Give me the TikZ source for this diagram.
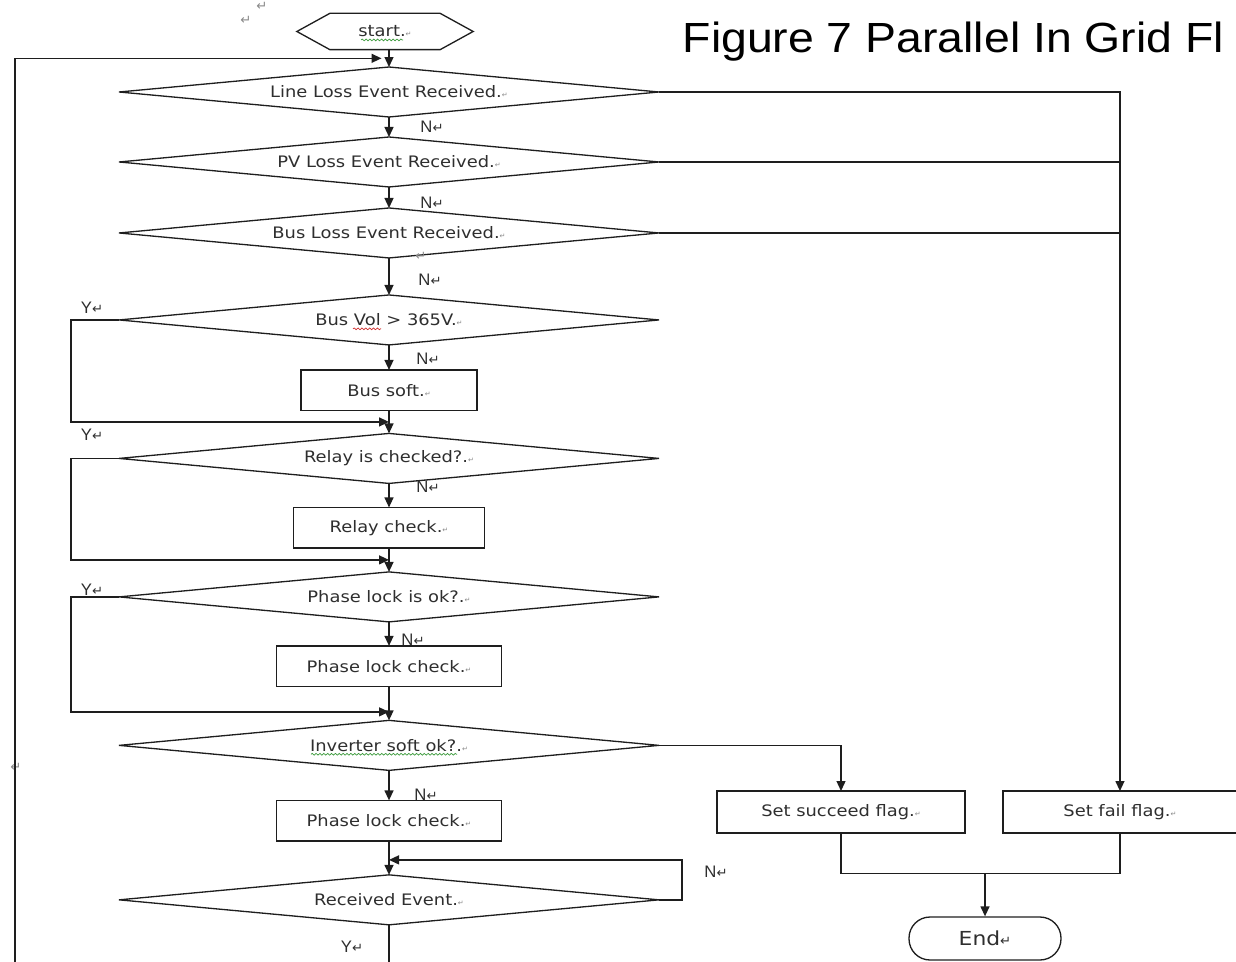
\documentclass[tikz,border=0pt]{standalone}
\usepackage{fontspec}
\usepackage{xcolor}
\usetikzlibrary{positioning, arrows.meta, calc, shapes.geometric, decorations.pathmorphing}
\setmainfont{DejaVu Sans}
\newfontfamily\boxfont[FakeStretch=1.13]{DejaVu Sans}
\newfontfamily\labelfont{Liberation Sans}
\newfontfamily\titlefont[FakeStretch=1.1]{Liberation Sans}
\newfontfamily\markfont{DejaVu Sans}
\definecolor{inkgrey}{HTML}{2E2E2E}
\definecolor{lineblack}{HTML}{1E1E1E}
\definecolor{spellgreen}{HTML}{3C9A3C}
\definecolor{spellred}{HTML}{D03030}
\definecolor{markgrey}{HTML}{8A8A8A}
\newcommand\retmark{{\markfont\fontsize{7.5}{7.5}\selectfont ↵}}
\newcommand\cellmark{{\color{markgrey}\markfont\fontsize{4}{4}\selectfont ↵}}

\begin{document}
\begin{tikzpicture}[x=0.02cm, y=-0.02cm, font=\boxfont\fontsize{9}{11}\selectfont, text=inkgrey,
  line width=0.75pt, node distance=0.45cm,
  decision/.style={diamond, draw=lineblack, shape aspect=10.8, minimum width=10.8cm,
    minimum height=1cm, inner sep=0pt, outer sep=0pt},
  process/.style={rectangle, draw=lineblack, minimum height=0.81cm, inner sep=0pt, outer sep=0pt},
  yn/.style={font=\labelfont\fontsize{9.5}{10}\selectfont, inner sep=0pt},
  arr/.style={draw=lineblack, -{Triangle[length=2mm, width=1.8mm]}},
  link/.style={draw=lineblack},
  spellmark/.style={line width=0.4pt, decorate,
    decoration={snake, amplitude=0.5pt, segment length=2.2pt}}]
  \useasboundingbox (0,0) rectangle (1236,962);
  \clip (0,0) rectangle (1236,962);

  % main column
  \node[minimum width=3.5cm, minimum height=0.7cm, inner sep=0pt] (start) at (385,31.5)
    {start.\cellmark};
  \draw[link] (start.west) -- ($(start.north west)+(33,0)$) -- ($(start.north east)+(-33,0)$)
    -- (start.east) -- ($(start.south east)+(-33,0)$) -- ($(start.south west)+(33,0)$) -- cycle;
  \node[decision] (ll) at (389,92) {Line Loss Event Received.\cellmark};
  \node[decision, below=0.4cm of ll] (pv) {PV Loss Event Received.\cellmark};
  \node[decision, below=0.42cm of pv] (bl) {Bus Loss Event Received.\cellmark};
  \node[decision, below=0.74cm of bl] (bv) {Bus Vol > 365V.\cellmark};
  \node[process, minimum width=3.52cm, below=0.5cm of bv] (bs) {Bus soft.\cellmark};
  \node[decision, below=0.46cm of bs] (rl) {Relay is checked?.\cellmark};
  \node[process, minimum width=3.82cm, below=0.48cm of rl] (rc) {Relay check.\cellmark};
  \node[decision, below=0.48cm of rc] (ph) {Phase lock is ok?.\cellmark};
  \node[process, minimum width=4.5cm, below=0.48cm of ph] (pc) {Phase lock check.\cellmark};
  \node[decision, below=0.68cm of pc] (inv) {Inverter soft ok?.\cellmark};
  \node[process, minimum width=4.5cm, below=0.6cm of inv] (pc2) {Phase lock check.\cellmark};
  \node[decision, below=0.68cm of pc2] (rv) {Received Event.\cellmark};

  % spell-check squiggles
  \draw[spellmark, spellgreen] ($(start.base)+(-24,3)$) -- ++(42,0);
  \draw[spellmark, spellred] ($(bv.base)+(-36,3)$) -- ++(28,0);
  \draw[spellmark, spellgreen] ($(inv.base)+(-78,3)$) -- ++(146,0);

  % right column
  \node[process, minimum width=4.96cm, minimum height=0.84cm] (succ) at (841,812)
    {Set succeed flag.\cellmark};
  \node[process, minimum width=4.68cm, minimum height=0.84cm, right=0.76cm of succ] (fail)
    {Set fail flag.\cellmark};
  \node[draw=lineblack, rounded corners=0.42cm, minimum width=3.04cm, minimum height=0.86cm,
    font=\boxfont\fontsize{11}{13}\selectfont] (end) at (985,938.5) {End\retmark};

  % title
  \node[anchor=base west, inner sep=0pt, text=black,
    font=\titlefont\fontsize{24}{28}\selectfont] (title) at (682,53) {Figure 7 Parallel In Grid Fl};

  % Y / N labels
  \node[yn] (nLL) at (432,127) {N\retmark};
  \node[yn] (nPV) at (432,203) {N\retmark};
  \node[yn] (nBL) at (430,280) {N\retmark};
  \node[yn] (yBV) at (92,308) {Y\retmark};
  \node[yn] (nBV) at (428,359) {N\retmark};
  \node[yn] (yRL) at (92,435) {Y\retmark};
  \node[yn] (nRL) at (428,487) {N\retmark};
  \node[yn] (yPH) at (92,590) {Y\retmark};
  \node[yn] (nPH) at (413,640) {N\retmark};
  \node[yn] (nINV) at (426,795) {N\retmark};
  \node[yn] (nRV) at (716,872) {N\retmark};
  \node[yn] (yRV) at (352,947) {Y\retmark};

  % stray marks
  \node[text=markgrey, inner sep=0pt] (m1) at (246,20) {\retmark};
  \node[text=markgrey, inner sep=0pt] (m2) at (262,6) {\retmark};
  \node[text=markgrey, inner sep=0pt] (m3) at (16,767) {\retmark};
  \node[text=markgrey, inner sep=0pt] (m4) at (421,256) {\retmark};

  % connectors
  \coordinate (leftrail) at (71,0);
  \coordinate (outerrail) at (15,0);
  \coordinate (topjoin) at ($(ll.north |- start.south)!0.5!(ll.north)$);
  \draw[arr] (ll.north |- start.south) -- (ll.north);
  \draw[arr] (ll) -- (pv);
  \draw[arr] (pv) -- (bl);
  \draw[arr] (bl) -- (bv);
  \draw[arr] (bv) -- (bs);
  \draw[arr] (bs) -- (rl);
  \draw[arr] (rl) -- (rc);
  \draw[arr] (rc) -- (ph);
  \draw[arr] (ph) -- (pc);
  \draw[arr] (pc) -- (inv);
  \draw[arr] (inv) -- (pc2);
  \draw[arr] (pc2) -- (rv);

  \coordinate (j1) at ($(bs.south)!0.5!(rl.north)$);
  \draw[arr] (bv.west) -- (bv.west -| leftrail) |- (j1);
  \coordinate (j2) at ($(rc.south)!0.5!(ph.north)$);
  \draw[arr] (rl.west) -- (rl.west -| leftrail) |- (j2);
  \coordinate (j3) at ($(pc.south)!0.75!(inv.north)$);
  \draw[arr] (ph.west) -- (ph.west -| leftrail) |- (j3);
  \coordinate (j4) at ($(pc2.south)!0.56!(rv.north)$);
  \draw[arr] (rv.east) -- ++(23,0) |- (j4);
  \draw[arr, shorten >=0.15cm] (rv.south) -- ++(0,60) -| (outerrail |- topjoin) -- (topjoin);

  \draw[arr] (ll.east) -| (fail.north);
  \draw[link] (pv.east) -- (pv.east -| fail.north);
  \draw[link] (bl.east) -- (bl.east -| fail.north);
  \draw[arr] (inv.east) -| (succ.north);
  \coordinate (merge) at ($(end.north)+(0,-43)$);
  \draw[link] (succ.south) |- (merge) -| (fail.south);
  \draw[arr] (merge) -- (end);
\end{tikzpicture}
\end{document}
